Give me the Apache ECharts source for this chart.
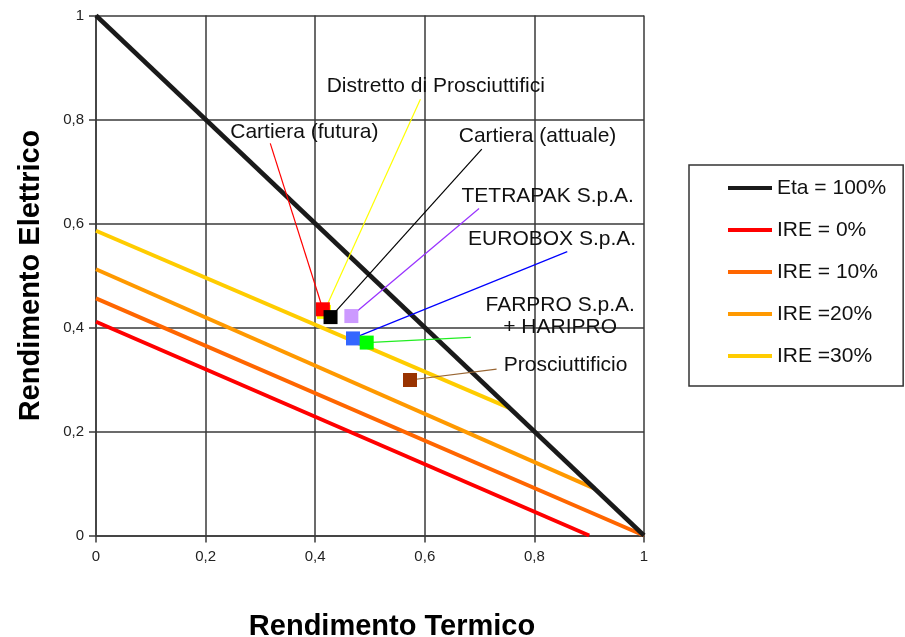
<!DOCTYPE html>
<html>
<head>
<meta charset="utf-8">
<script src="https://cdn.jsdelivr.net/npm/echarts@6/dist/echarts.min.js"></script>
<style>
html,body{margin:0;padding:0;background:#fff;}
#chart{width:905px;height:637px;}
</style>
</head>
<body>
<div id="chart"></div>
<script>
// ---- data ----
const tickValues = [0, 0.2, 0.4, 0.6, 0.8, 1];
const lineNames = ['Eta = 100%', 'IRE = 0%', 'IRE = 10%', 'IRE =20%', 'IRE =30%'];
const etaLine = [[0, 1], [1, 0]];
const ire0 = [[0, 0.411], [0.9, 0]];
const ire10 = [[0, 0.456], [1, 0]];
const ire20 = [[0, 0.512], [0.91, 0.09]];
const ire30 = [[0, 0.586], [0.755, 0.245]];

const plantNames = ['Distretto di Prosciuttifici', 'Cartiera (futura)', 'Cartiera (attuale)', 'TETRAPAK S.p.A.', 'EUROBOX S.p.A.', 'FARPRO S.p.A.\n+ HARIPRO', 'Prosciuttificio'];
const plantThermal = [0.416, 0.414, 0.428, 0.466, 0.469, 0.494, 0.573];
const plantElectric = [0.430, 0.435, 0.420, 0.422, 0.379, 0.371, 0.299];
const leaderEnd = [[0.592, 0.839], [0.318, 0.754], [0.704, 0.743], [0.699, 0.629], [0.860, 0.546], [0.684, 0.381], [0.731, 0.320]];
const labelAt = [[0.421, 0.864], [0.245, 0.775], [0.662, 0.767], [0.667, 0.652], [0.679, 0.570], [0.847, 0.422], [0.744, 0.328]];

// ---- styles ----
const lineColors = ['#1a1a1a', '#ff0000', '#ff6600', '#ff9900', '#ffcc00'];
const markerColors = ['#ffff00', '#ff0000', '#000000', '#cc99ff', '#3366ff', '#00ff00', '#993300'];
const leaderColors = ['#ffff00', '#ff0000', '#000000', '#9933ff', '#0000ff', '#22ee22', '#996633'];
const FONT = '"Liberation Sans", Arial, sans-serif';
const gridColor = '#3a3a3a';

const lineData = [etaLine, ire0, ire10, ire20, ire30];
const fmt = v => String(v).replace('.', ',');

const chart = echarts.init(document.getElementById('chart'), null, {renderer: 'canvas'});

const lineSeries = lineData.map((d, i) => ({
  name: lineNames[i],
  type: 'line',
  data: d,
  symbol: 'none',
  color: lineColors[i],
  lineStyle: {color: lineColors[i], width: i === 0 ? 4.5 : 4},
  z: i === 0 ? 4 : 3,
  silent: true
})).reverse();

const option = {
  animation: false,
  backgroundColor: '#fff',
  textStyle: {fontFamily: FONT},
  grid: {left: 96, right: 261, top: 15.5, bottom: 101.5, containLabel: false, outerBoundsMode: 'none'},
  xAxis: {
    type: 'value', min: 0, max: 1, interval: 0.2,
    name: 'Rendimento Termico', nameLocation: 'middle', nameGap: 77,
    nameTextStyle: {fontFamily: FONT, fontSize: 29, fontWeight: 'bold', color: '#000', padding: [0, 0, 0, 44]},
    axisLine: {lineStyle: {color: gridColor, width: 1.5}},
    axisTick: {show: true, inside: false, length: 7, lineStyle: {color: gridColor, width: 1.5}},
    axisLabel: {fontFamily: FONT, fontSize: 15, color: '#222', margin: 14, formatter: v => fmt(v)},
    splitLine: {show: true, lineStyle: {color: gridColor, width: 1.5}}
  },
  yAxis: {
    type: 'value', min: 0, max: 1, interval: 0.2,
    name: 'Rendimento Elettrico', nameLocation: 'middle', nameGap: 51,
    nameTextStyle: {fontFamily: FONT, fontSize: 29, fontWeight: 'bold', color: '#000'},
    axisLine: {show: true, lineStyle: {color: gridColor, width: 1.5}},
    axisTick: {show: true, inside: false, length: 7, lineStyle: {color: gridColor, width: 1.5}},
    axisLabel: {fontFamily: FONT, fontSize: 15, color: '#222', margin: 12, formatter: v => fmt(v)},
    splitLine: {show: true, lineStyle: {color: gridColor, width: 1.5}}
  },
  legend: {
    data: lineNames.map(n => ({name: n, icon: 'rect'})),
    orient: 'vertical',
    left: 689, top: 165,
    padding: [12, 17, 19, 39],
    itemWidth: 44, itemHeight: 4, itemGap: 20,
    borderColor: '#333', borderWidth: 1.5,
    textStyle: {fontFamily: FONT, fontSize: 21, color: '#111', lineHeight: 22}
  },
  series: [
    ...lineSeries,
    {
      type: 'lines',
      coordinateSystem: 'cartesian2d',
      z: 5,
      silent: true,
      data: plantNames.map((n, i) => ({
        coords: [[plantThermal[i], plantElectric[i]], leaderEnd[i]],
        lineStyle: {color: leaderColors[i], width: 1.2, opacity: 1}
      }))
    },
    {
      type: 'scatter',
      symbol: 'rect',
      symbolSize: 14,
      z: 6,
      silent: true,
      itemStyle: {opacity: 1},
      data: plantNames.map((n, i) => ({
        name: n,
        value: [plantThermal[i], plantElectric[i]],
        itemStyle: {color: markerColors[i], opacity: 1}
      }))
    },
    {
      type: 'scatter',
      symbolSize: 0,
      z: 7,
      silent: true,
      itemStyle: {opacity: 1},
      label: {show: true, position: 'right', distance: 0, formatter: p => p.name,
        fontFamily: FONT, fontSize: 21, color: '#111', lineHeight: 22},
      data: plantNames.map((n, i) => {
        const item = {name: n, value: labelAt[i]};
        if (n.indexOf('\n') >= 0) item.label = {position: 'inside', align: 'center', verticalAlign: 'middle'};
        return item;
      })
    }
  ]
};
chart.setOption(option);
</script>
</body>
</html>
